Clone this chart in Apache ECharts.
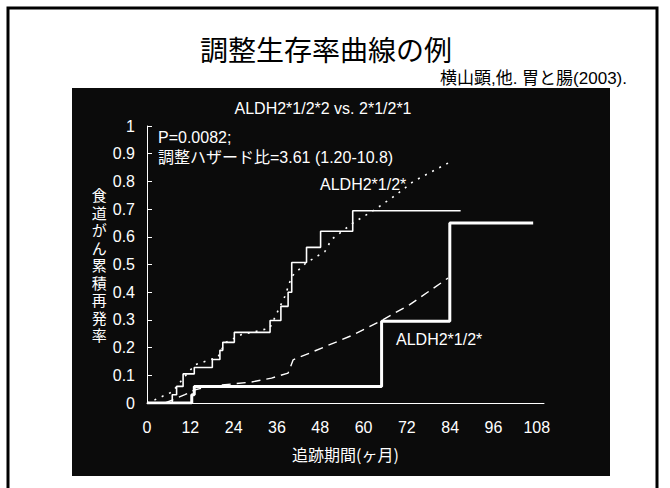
<!DOCTYPE html>
<html><head><meta charset="utf-8">
<script src="https://cdn.jsdelivr.net/npm/echarts@6/dist/echarts.min.js"></script>
<style>html,body{margin:0;padding:0;background:#fff}#c{width:670px;height:488px}</style>
</head><body><div id="c"></div>
<script>
// ---- data (months, cumulative recurrence rate) ----
const xTickLabels = [0, 12, 24, 36, 48, 60, 72, 84, 96, 108];
const yTickLabels = [0, 0.1, 0.2, 0.3, 0.4, 0.5, 0.6, 0.7, 0.8, 0.9, 1];
// ALDH2*1/2*2 observed (thin step)
const observedHetero = [[0,0],[7.0,0.03],[8.2,0.06],[10.0,0.105],[13.1,0.128],[18.1,0.157],[20.2,0.19],[21.0,0.219],[24.2,0.255],[34.1,0.298],[37.1,0.349],[39.1,0.40],[40.1,0.507],[44.2,0.562],[48.1,0.62],[57.0,0.694],[86.9,0.694]];
// ALDH2*1/2*2 adjusted (dotted)
const adjustedHetero = [[0,0],[2.2,0.012],[7,0.04],[10.5,0.096],[13.3,0.138],[19.7,0.166],[21.6,0.217],[26.2,0.247],[34,0.27],[38.2,0.385],[40.1,0.457],[44,0.505],[49.3,0.547],[51.1,0.59],[57.1,0.65],[63.1,0.698],[69.1,0.752],[73.8,0.80],[83.4,0.866]];
// ALDH2*1/2*1 observed (thick step)
const observedHomo = [[0,0],[12.4,0.03],[13.1,0.06],[65.0,0.295],[83.9,0.65],[107,0.65]];
// ALDH2*1/2*1 adjusted (dashed)
const adjustedHomo = [[5,0],[10.5,0.03],[13.3,0.048],[17.4,0.06],[21.6,0.066],[29,0.076],[34.5,0.09],[39.1,0.108],[40.5,0.156],[45,0.18],[57,0.245],[65,0.298],[72.8,0.355],[83.4,0.451]];

const mainTitle = '調整生存率曲線の例';
const citation = '横山顕,他. 胃と腸(2003).';
const subTitle = 'ALDH2*1/2*2 vs. 2*1/2*1';
const pText = 'P=0.0082;';
const hrText = '調整ハザード比=3.61 (1.20-10.8)';
const labelUpper = 'ALDH2*1/2*';
const labelLower = 'ALDH2*1/2*';
const xName = '追跡期間(ヶ月)';
const yName = '食道がん累積再発率';

const LATIN = "'Liberation Sans', Arial, 'Noto Sans CJK JP', sans-serif";
const CJK = "'Noto Sans CJK JP', sans-serif";
const W = '#ffffff';

const chart = echarts.init(document.getElementById('c'), null, {renderer: 'svg'});
chart.setOption({
  backgroundColor: '#ffffff',
  animation: false,
  graphic: [
    {type: 'rect', z: -20, shape: {x: 8, y: 8, width: 649, height: 500}, style: {fill: '#ffffff', stroke: '#000', lineWidth: 3}},
    {type: 'rect', z: -10, shape: {x: 72, y: 88, width: 538, height: 388}, style: {fill: '#0b0b0b'}},
    {type: 'text', z: 10, x: 326, y: 49, style: {text: mainTitle, fill: '#000', font: "28px " + CJK, textAlign: 'center', textVerticalAlign: 'middle'}},
    {type: 'text', z: 10, x: 627, y: 78, style: {text: citation, fill: '#000', font: "17px " + LATIN, textAlign: 'right', textVerticalAlign: 'middle'}},
    {type: 'text', z: 10, x: 323, y: 108, style: {text: subTitle, fill: W, font: "16px " + LATIN, textAlign: 'center', textVerticalAlign: 'middle'}},
    {type: 'text', z: 10, x: 158, y: 137, style: {text: pText, fill: W, font: "16px " + LATIN, textAlign: 'left', textVerticalAlign: 'middle'}},
    {type: 'text', z: 10, x: 158, y: 157, style: {text: hrText, fill: W, font: "16px " + LATIN, textAlign: 'left', textVerticalAlign: 'middle'}},
    {type: 'text', z: 10, x: 320, y: 184, style: {text: labelUpper, fill: W, font: "16px " + LATIN, textAlign: 'left', textVerticalAlign: 'middle'}},
    {type: 'text', z: 10, x: 396, y: 339, style: {text: labelLower, fill: W, font: "16px " + LATIN, textAlign: 'left', textVerticalAlign: 'middle'}}
  ],
  grid: {left: 147, top: 126, right: 126, bottom: 85, containLabel: false, outerBoundsMode: 'none'},
  xAxis: {
    type: 'value', min: 0, max: 110, interval: 12,
    name: xName, nameLocation: 'middle', nameGap: 43,
    nameTextStyle: {color: W, fontFamily: CJK, fontSize: 16},
    axisLine: {lineStyle: {color: W, width: 1}},
    axisTick: {show: false},
    splitLine: {show: false},
    axisLabel: {color: W, fontFamily: LATIN, fontSize: 16, margin: 16,
      formatter: v => xTickLabels.indexOf(v) >= 0 ? String(v) : ''}
  },
  yAxis: {
    type: 'value', min: 0, max: 1, interval: 0.1,
    name: yName.split('').join('\n'), nameLocation: 'middle', nameRotate: 0, nameGap: 45,
    nameTextStyle: {color: W, fontFamily: CJK, fontSize: 15, lineHeight: 17.5, align: 'center', verticalAlign: 'middle'},
    axisLine: {show: true, lineStyle: {color: W, width: 1}},
    axisTick: {show: true, inside: true, length: 5, lineStyle: {color: W, width: 1}},
    splitLine: {show: false},
    axisLabel: {color: W, fontFamily: LATIN, fontSize: 16, margin: 12,
      formatter: v => { const m = yTickLabels.find(t => Math.abs(t - v) < 1e-9); return m === undefined ? '' : String(m); }}
  },
  series: [
    {type: 'line', name: 'adjusted *1/2*1', data: adjustedHomo, showSymbol: false, silent: true,
      lineStyle: {color: W, width: 1.4, type: [9, 6]}},
    {type: 'line', name: 'adjusted *1/2*2', data: adjustedHetero, showSymbol: false, silent: true,
      lineStyle: {color: W, width: 1.6, type: [2, 6]}},
    {type: 'line', name: 'observed *1/2*2', data: observedHetero, step: 'end', showSymbol: false, silent: true,
      lineStyle: {color: W, width: 1.6}},
    {type: 'line', name: 'observed *1/2*1', data: observedHomo, step: 'end', showSymbol: false, silent: true,
      lineStyle: {color: W, width: 3}}
  ]
});
</script></body></html>
